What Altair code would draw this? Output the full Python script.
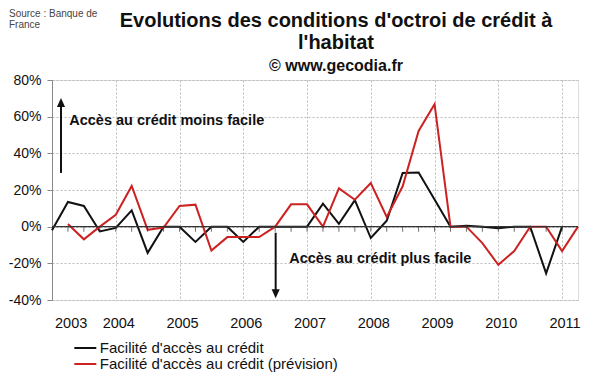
import altair as alt
import pandas as pd

# ---------------- data ----------------
series_names = ["Facilité d'accès au crédit",
                "Facilité d'accès au crédit (prévision)"]
series_colors = ["#111111", "#cc2222"]

# quarterly observations, first point = 2003 T1 (x = 2003.00)
black_start = 2003.0
black_values = [-2.0, 13.5, 11.3, -2.6, -0.7, 8.9, -14.3, 0.0,
                0.0, -8.3, 0.0, 0.0, -8.3, 0.0, 0.0, 0.0,
                0.0, 12.6, 1.5, 14.5, -6.2, 3.2, 29.3, 29.6,
                14.8, 0.0, 0.5, 0.0, -0.9, 0.0, 0.0, -25.5,
                0.0]

red_start = 2003.25
red_values = [1.5, -6.9, 0.0, 6.5, 22.2, -1.7, -0.5, 11.3,
              12.0, -13.0, -5.7, -5.7, -5.7, 0.0, 12.2, 12.2,
              0.0, 20.9, 14.7, 23.8, 5.3, 22.0, 52.2, 66.8,
              0.0, 0.0, -9.0, -20.8, -13.3, 0.0, 0.0, -13.3,
              0.0]

year_ticks = [2003, 2004, 2005, 2006, 2007, 2008, 2009, 2010, 2011]
y_ticks = [-40, -20, 0, 20, 40, 60, 80]
quarter_ticks = [2003 + q / 4 for q in range(1, 33)]

title_lines = ["Evolutions des conditions d'octroi de crédit à", "l'habitat"]
subtitle = "© www.gecodia.fr"
source_lines = ["Source : Banque de", "France"]
note_up = "Accès au crédit moins facile"
note_down = "Accès au crédit plus facile"

# ---------------- tables ----------------
rows = []
for i, v in enumerate(black_values):
    rows.append({"t": black_start + i / 4, "v": v, "serie": series_names[0]})
for i, v in enumerate(red_values):
    rows.append({"t": red_start + i / 4, "v": v, "serie": series_names[1]})
df = pd.DataFrame(rows)
df_q = pd.DataFrame({"t": quarter_ticks})
one = pd.DataFrame({"a": [0]})

FONT = "Liberation Sans"
x_scale = alt.Scale(domain=[2003, 2011.25], nice=False, zero=False)
y_scale = alt.Scale(domain=[-40, 80], nice=False, zero=False)

x_axis = alt.Axis(values=year_ticks, format="d", title=None,
                  grid=True, gridColor="#bbbbbb", gridDash=[2, 2],
                  ticks=False, domain=False, labelOverlap=False,
                  labelBaseline="alphabetic", labelPadding=27.5,
                  labelOffset=2.5, labelFontSize=14.5,
                  labelColor="#111111", labelFont=FONT)
y_axis = alt.Axis(values=y_ticks, tickCount=7,
                  labelExpr="datum.value + '%'", labelOverlap=False,
                  title=None, grid=True, gridColor="#bbbbbb",
                  gridDash=[2, 2], domainColor="#888888",
                  tickColor="#888888", tickSize=5, labelPadding=6,
                  labelFontSize=14, labelColor="#111111",
                  labelFont=FONT)


def xd(v):
    return alt.XDatum(v, scale=x_scale, axis=x_axis)


def yd(v):
    return alt.YDatum(v, scale=y_scale, axis=y_axis)


lines = alt.Chart(df).mark_line(strokeWidth=2).encode(
    x=alt.X("t:Q", scale=x_scale, axis=x_axis),
    y=alt.Y("v:Q", scale=y_scale, axis=y_axis),
    color=alt.Color("serie:N",
                    scale=alt.Scale(domain=series_names, range=series_colors),
                    legend=alt.Legend(orient="none", legendX=25.8, legendY=260.5,
                                      title=None, symbolType="M-2,0H2",
                                      symbolSize=121, symbolStrokeWidth=2,
                                      labelFontSize=15, labelFont=FONT,
                                      labelColor="#111111", labelOffset=7,
                                      labelLimit=500, rowPadding=-1,
                                      padding=0)),
)

zero_line = alt.Chart(one).mark_rule(color="#333333", strokeWidth=1.2).encode(
    y=yd(0)
)
zero_ticks = alt.Chart(df_q).mark_tick(orient="vertical", size=5, thickness=1,
                                       yOffset=2.5, color="#333333").encode(
    x=alt.X("t:Q", scale=x_scale, axis=x_axis),
    y=yd(0),
)

# annotations (in data coordinates)
ann_up_text = alt.Chart(one).mark_text(
    text=note_up, align="left", baseline="middle", fontWeight="bold",
    fontSize=14.5, font=FONT, color="#111111").encode(
    x=xd(2003.27), y=yd(57.6))
ann_down_text = alt.Chart(one).mark_text(
    text=note_down, align="left", baseline="middle", fontWeight="bold",
    fontSize=14.5, font=FONT, color="#111111").encode(
    x=xd(2006.72), y=yd(-17.6))

up_shaft = alt.Chart(one).mark_rule(color="#111111", strokeWidth=2).encode(
    x=xd(2003.141), y=yd(29.3), y2=alt.datum(66.0))
up_head = alt.Chart(one).mark_point(
    shape="M0,0L-0.45,1L0.45,1Z", filled=True, size=324, opacity=1,
    color="#111111", strokeWidth=0).encode(
    x=xd(2003.141), y=yd(70.2))
down_shaft = alt.Chart(one).mark_rule(color="#111111", strokeWidth=2).encode(
    x=xd(2006.508), y=yd(-3.3), y2=alt.datum(-35.0))
down_head = alt.Chart(one).mark_point(
    shape="M0,0L-0.45,-1L0.45,-1Z", filled=True, size=324, opacity=1,
    color="#111111", strokeWidth=0).encode(
    x=xd(2006.508), y=yd(-39.1))

# titles (pixel positions relative to plot origin)
title1 = alt.Chart(one).mark_text(
    text=title_lines[0], align="center", baseline="alphabetic",
    fontWeight="bold", fontSize=20, font=FONT, color="#111111").encode(
    x=alt.value(284), y=alt.value(-53))
title2 = alt.Chart(one).mark_text(
    text=title_lines[1], align="center", baseline="alphabetic",
    fontWeight="bold", fontSize=20, font=FONT, color="#111111").encode(
    x=alt.value(284), y=alt.value(-31))
sub = alt.Chart(one).mark_text(
    text=subtitle, align="center", baseline="alphabetic",
    fontWeight="bold", fontSize=16, font=FONT, color="#111111").encode(
    x=alt.value(284), y=alt.value(-9))
src1 = alt.Chart(one).mark_text(
    text=source_lines[0], align="left", baseline="alphabetic",
    fontSize=10, font=FONT, color="#444444").encode(
    x=alt.value(-43), y=alt.value(-63.5))
src2 = alt.Chart(one).mark_text(
    text=source_lines[1], align="left", baseline="alphabetic",
    fontSize=10, font=FONT, color="#444444").encode(
    x=alt.value(-43), y=alt.value(-52.5))

chart = alt.layer(
    lines, zero_line, zero_ticks,
    ann_up_text, ann_down_text, up_shaft, up_head, down_shaft, down_head,
    title1, title2, sub, src1, src2,
).properties(
    width=526, height=220,
    padding={"left": 44, "top": 72, "right": 14, "bottom": 72},
    autosize=alt.AutoSizeParams(type="none"),
).configure_view(
    stroke="#888888", strokeWidth=1
).configure(
    font=FONT, background="white"
)

chart.save("out.html", embed_options={"renderer": "svg", "actions": False})
